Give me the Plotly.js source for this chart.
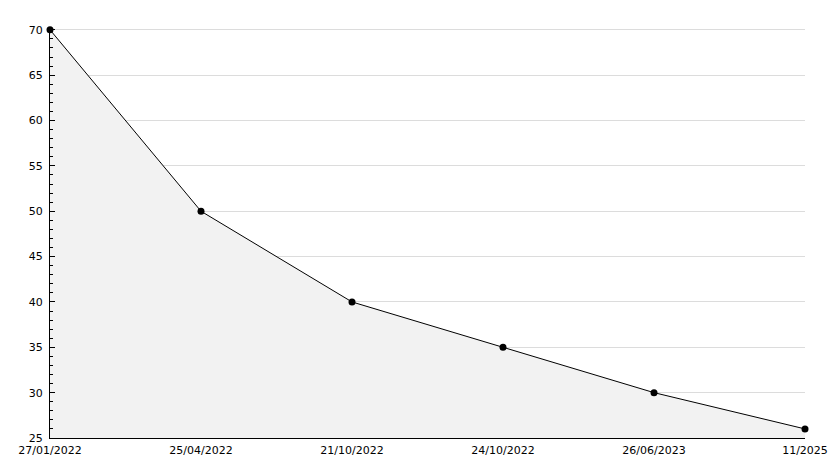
<!DOCTYPE html>
<html>
<head>
<meta charset="utf-8">
<script src="https://cdn.plot.ly/plotly-3.0.1.min.js"></script>
<style>html,body{margin:0;padding:0;background:#fff;}#chart{width:834px;height:468px;}</style>
</head>
<body>
<div id="chart"></div>
<script>
var dates = ["27/01/2022", "25/04/2022", "21/10/2022", "24/10/2022", "26/06/2023", "11/2025"];
var values = [70, 50, 40, 35, 30, 26];
var yTicks = [25, 30, 35, 40, 45, 50, 55, 60, 65, 70];

var xIdx = dates.map(function(d, i){ return i; });

var trace = {
  x: xIdx,
  y: values,
  type: 'scatter',
  mode: 'lines+markers',
  fill: 'tozeroy',
  fillcolor: '#f2f2f2',
  line: {color: '#000', width: 1},
  marker: {color: '#000', size: 7, symbol: 'circle'},
  cliponaxis: false,
  hoverinfo: 'none'
};

var layout = {
  width: 834, height: 468,
  margin: {l: 50, r: 29, t: 28, b: 30},
  paper_bgcolor: '#fff', plot_bgcolor: '#fff',
  showlegend: false,
  font: {family: 'DejaVu Sans', size: 11, color: '#000'},
  xaxis: {
    range: [0, 5],
    tickmode: 'array', tickvals: xIdx, ticktext: dates,
    showgrid: false, zeroline: false,
    showline: true, linecolor: '#000', linewidth: 1,
    ticks: '', ticklen: 0, ticklabelstandoff: 2, tickfont: {size: 11},
    fixedrange: true
  },
  yaxis: {
    range: [25, 70.2],
    tickmode: 'array', tickvals: yTicks,
    showgrid: true, gridcolor: '#dcdcdc', gridwidth: 1,
    zeroline: false,
    showline: true, linecolor: '#000', linewidth: 1,
    ticks: 'inside', ticklen: 5, tickcolor: '#000', ticklabelstandoff: 4,
    minor: {dtick: 1, ticks: 'inside', ticklen: 3, tickcolor: '#000', showgrid: false},
    tickfont: {size: 11},
    fixedrange: true
  }
};

Plotly.newPlot('chart', [trace], layout, {displayModeBar: false, staticPlot: true});
</script>
</body>
</html>
